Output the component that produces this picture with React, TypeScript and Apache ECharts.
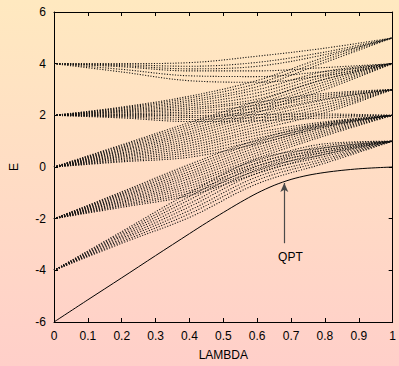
import React, { useEffect, useRef } from "react";
import * as echarts from "echarts";

// λ sample positions shared by every excited level
const lambdaSamples = [0, 0.2, 0.4, 0.6, 0.8, 1];

// Excited levels, grouped by their energy at λ = 0 (values at lambdaSamples)
const levelsFromMinus4: number[][] = [
  [-4, -2.5, -1.0, 0.3, 0.75, 1],
  [-4, -2.56, -1.14, 0.16, 0.66, 1],
  [-4, -2.63, -1.27, 0.03, 0.58, 1],
  [-4, -2.69, -1.41, -0.11, 0.49, 1],
  [-4, -2.76, -1.54, -0.24, 0.41, 1],
  [-4, -2.82, -1.68, -0.38, 0.32, 1],
  [-4, -2.89, -1.81, -0.51, 0.24, 1],
  [-4, -2.95, -1.95, -0.65, 0.15, 1],
];

const levelsFromMinus2: number[][] = [
  [-2, -0.96, 0.1, 1.05, 1.7, 2],
  [-2, -1.01, 0.01, 0.95, 1.63, 2],
  [-2, -1.05, -0.08, 0.85, 1.56, 2],
  [-2, -1.1, -0.18, 0.75, 1.49, 2],
  [-2, -1.14, -0.27, 0.65, 1.42, 2],
  [-2, -1.19, -0.36, 0.55, 1.35, 2],
  [-2, -1.24, -0.45, 0.45, 1.28, 2],
  [-2, -1.28, -0.55, 0.35, 1.21, 2],
  [-2, -1.33, -0.64, 0.25, 0.9, 1],
  [-2, -1.37, -0.73, 0.15, 0.82, 1],
  [-2, -1.42, -0.82, 0.05, 0.74, 1],
  [-2, -1.47, -0.92, -0.05, 0.66, 1],
  [-2, -1.51, -1.01, -0.15, 0.58, 1],
  [-2, -1.56, -1.1, -0.25, 0.5, 1],
];

const levelsFrom0: number[][] = [
  [0, 0.86, 1.72, 2.55, 3.4, 4],
  [0, 0.82, 1.63, 2.44, 3.3, 4],
  [0, 0.77, 1.54, 2.33, 3.2, 4],
  [0, 0.73, 1.45, 2.22, 3.1, 4],
  [0, 0.68, 1.36, 2.11, 3.0, 4],
  [0, 0.64, 1.28, 2.0, 2.6, 3],
  [0, 0.6, 1.19, 1.89, 2.5, 3],
  [0, 0.55, 1.1, 1.78, 2.4, 3],
  [0, 0.51, 1.01, 1.67, 2.3, 3],
  [0, 0.46, 0.92, 1.56, 2.2, 3],
  [0, 0.42, 0.83, 1.45, 2.1, 3],
  [0, 0.38, 0.74, 1.34, 1.75, 2],
  [0, 0.33, 0.65, 1.23, 1.7, 2],
  [0, 0.29, 0.56, 1.12, 1.65, 2],
  [0, 0.24, 0.47, 1.01, 1.6, 2],
  [0, 0.2, 0.38, 0.9, 1.55, 2],
];

const levelsFrom2: number[][] = [
  [2, 2.32, 2.74, 3.35, 4.25, 5],
  [2, 2.29, 2.67, 3.23, 4.15, 5],
  [2, 2.26, 2.59, 3.11, 4.05, 5],
  [2, 2.22, 2.52, 2.99, 3.7, 4],
  [2, 2.19, 2.44, 2.87, 3.6, 4],
  [2, 2.16, 2.37, 2.75, 3.5, 4],
  [2, 2.13, 2.29, 2.63, 3.4, 4],
  [2, 2.1, 2.22, 2.51, 2.85, 3],
  [2, 2.06, 2.14, 2.39, 2.78, 3],
  [2, 2.03, 2.07, 2.27, 2.71, 3],
  [2, 2.0, 1.99, 2.15, 2.64, 3],
  [2, 1.97, 1.92, 2.03, 2.05, 2],
  [2, 1.94, 1.84, 1.91, 1.98, 2],
  [2, 1.9, 1.76, 1.79, 1.9, 2],
];

const levelsFrom4: number[][] = [
  [4, 4.0, 4.04, 4.29, 4.6, 5],
  [4, 3.96, 3.9, 4.05, 4.45, 5],
  [4, 3.92, 3.8, 3.9, 4.35, 5],
  [4, 3.88, 3.72, 3.72, 3.85, 4],
  [4, 3.78, 3.53, 3.5, 3.7, 4],
  [4, 3.68, 3.34, 3.28, 3.55, 4],
];

// Ground state
const groundLambda = [0, 0.1, 0.2, 0.3, 0.4, 0.45, 0.5, 0.55, 0.6, 0.65, 0.7, 0.75, 0.8, 0.85, 0.9, 0.95, 1];
const groundEnergy = [-6, -5.14, -4.29, -3.43, -2.58, -2.16, -1.76, -1.37, -1.01, -0.71, -0.48, -0.32, -0.21, -0.13, -0.07, -0.03, 0];

// QPT annotation
const qptLambda = 0.68;
const qptArrowFrom = -2.95;
const qptArrowTo = -0.62;
const qptLabelLambda = 0.698;
const qptLabelEnergy = -3.5;

const FONT = "'Liberation Sans', Arial, Helvetica, sans-serif";

export default function App() {
  const ref = useRef<HTMLDivElement>(null);

  useEffect(() => {
    document.body.style.margin = "0";
    if (!ref.current) return;
    const chart = echarts.init(ref.current, undefined, { renderer: "svg" });

    const allLevels = [
      ...levelsFromMinus4,
      ...levelsFromMinus2,
      ...levelsFrom0,
      ...levelsFrom2,
      ...levelsFrom4,
    ];

    const dottedSeries = allLevels.map((lv) => ({
      type: "line",
      data: lv.map((e, i) => [lambdaSamples[i], e]),
      symbol: "none",
      smooth: 0.35,
      silent: true,
      lineStyle: { color: "#111", width: 1.1, type: [1.1, 1.6] },
      z: 2,
    }));

    const axisCommon = {
      type: "value",
      axisLine: { show: true, onZero: false, lineStyle: { color: "#000", width: 1 } },
      axisTick: { show: true, inside: true, length: 4, lineStyle: { color: "#000", width: 1 } },
      splitLine: { show: false },
    };

    const option: any = {
      animation: false,
      backgroundColor: new echarts.graphic.LinearGradient(0, 0, 0, 1, [
        { offset: 0, color: "#ffe9c0" },
        { offset: 1, color: "#ffcfc9" },
      ]),
      textStyle: { fontFamily: FONT },
      grid: { left: 52, right: 3, top: 12, bottom: 40 },
      xAxis: [
        {
          ...axisCommon,
          min: 0,
          max: 1,
          interval: 0.1,
          position: "bottom",
          axisLabel: { color: "#000", fontSize: 12, margin: 8, fontFamily: FONT },
          name: "LAMBDA",
          nameLocation: "middle",
          nameGap: 27,
          nameTextStyle: { color: "#000", fontSize: 12, fontFamily: FONT },
        },
        {
          ...axisCommon,
          min: 0,
          max: 1,
          interval: 0.1,
          position: "top",
          axisLabel: { show: false },
        },
      ],
      yAxis: [
        {
          ...axisCommon,
          min: -6,
          max: 6,
          interval: 2,
          position: "left",
          axisLabel: { color: "#000", fontSize: 12, margin: 8, fontFamily: FONT },
          name: "E",
          nameLocation: "middle",
          nameRotate: 90,
          nameGap: 34,
          nameTextStyle: { color: "#000", fontSize: 12, fontFamily: FONT },
        },
        {
          ...axisCommon,
          min: -6,
          max: 6,
          interval: 2,
          position: "right",
          axisLabel: { show: false },
        },
      ],
      series: [
        ...dottedSeries,
        {
          type: "line",
          data: groundLambda.map((l, i) => [l, groundEnergy[i]]),
          symbol: "none",
          smooth: 0.3,
          silent: true,
          lineStyle: { color: "#000", width: 1 },
          z: 3,
          markLine: {
            silent: true,
            symbol: ["none", "arrow"],
            symbolSize: [6, 9],
            label: { show: false },
            lineStyle: { color: "#4a4a4a", type: "solid", width: 1.2 },
            data: [[{ coord: [qptLambda, qptArrowFrom] }, { coord: [qptLambda, qptArrowTo] }]],
          },
          markPoint: {
            silent: true,
            symbol: "circle",
            symbolSize: 0,
            label: {
              show: true,
              position: "inside",
              formatter: "QPT",
              color: "#000",
              fontSize: 12,
              fontFamily: FONT,
            },
            data: [{ coord: [qptLabelLambda, qptLabelEnergy] }],
          },
        },
      ],
    };

    chart.setOption(option);
    return () => chart.dispose();
  }, []);

  return <div ref={ref} style={{ width: 399, height: 366 }} />;
}
